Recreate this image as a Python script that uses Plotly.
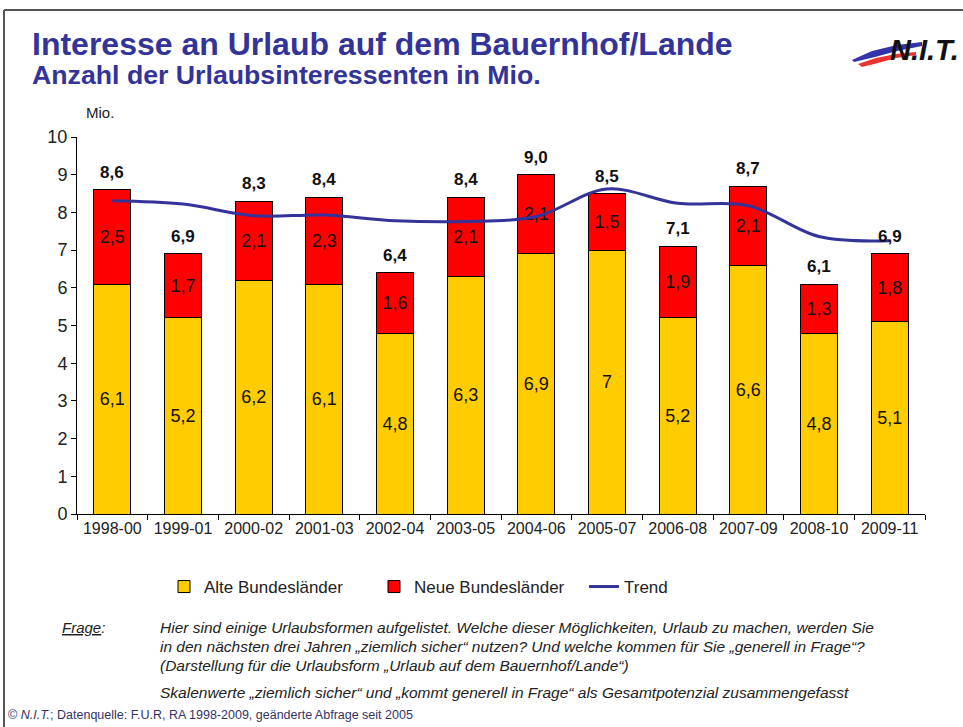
import plotly.graph_objects as go

# ---------------- data ----------------
categories = ["1998-00", "1999-01", "2000-02", "2001-03", "2002-04", "2003-05",
              "2004-06", "2005-07", "2006-08", "2007-09", "2008-10", "2009-11"]
alte = [6.1, 5.2, 6.2, 6.1, 4.8, 6.3, 6.9, 7.0, 5.2, 6.6, 4.8, 5.1]
neue = [2.5, 1.7, 2.1, 2.3, 1.6, 2.1, 2.1, 1.5, 1.9, 2.1, 1.3, 1.8]
totals = [8.6, 6.9, 8.3, 8.4, 6.4, 8.4, 9.0, 8.5, 7.1, 8.7, 6.1, 6.9]
trend = [8.31, 8.22, 7.91, 7.93, 7.78, 7.76, 7.89, 8.62, 8.24, 8.18, 7.36, 7.25]
alte_labels = ["6,1", "5,2", "6,2", "6,1", "4,8", "6,3", "6,9", "7", "5,2", "6,6", "4,8", "5,1"]
neue_labels = ["2,5", "1,7", "2,1", "2,3", "1,6", "2,1", "2,1", "1,5", "1,9", "2,1", "1,3", "1,8"]
total_labels = ["8,6", "6,9", "8,3", "8,4", "6,4", "8,4", "9,0", "8,5", "7,1", "8,7", "6,1", "6,9"]
y_ticks = list(range(0, 11))

# ---------------- layout geometry (pixels) ----------------
W, H = 963, 727
X0, X1 = 77, 925     # plot area left/right
Y1, Y0 = 137, 514    # plot area top/bottom


def px(x):
    return (x - X0) / (X1 - X0)


def py(y):
    return (Y0 - y) / (Y0 - Y1)


FONT = "Liberation Sans, Arial, sans-serif"
TITLE_COL = "#333399"
YELLOW = "#FFCC00"
RED = "#FF0000"

fig = go.Figure()
fig.add_trace(go.Bar(
    x=categories, y=alte, name="Alte Bundesländer",
    marker=dict(color=YELLOW, line=dict(color="#000000", width=1)),
    text=alte_labels, textposition="inside", insidetextanchor="middle",
    textfont=dict(size=18, color="#111111", family=FONT),
    width=0.52, hoverinfo="skip",
))
fig.add_trace(go.Bar(
    x=categories, y=neue, name="Neue Bundesländer",
    marker=dict(color=RED, line=dict(color="#000000", width=1)),
    text=neue_labels, textposition="inside", insidetextanchor="middle",
    textfont=dict(size=18, color="#111111", family=FONT),
    width=0.52, hoverinfo="skip",
))
fig.add_trace(go.Scatter(
    x=categories, y=trend, name="Trend", mode="lines",
    line=dict(color=TITLE_COL, width=3, shape="spline", smoothing=1.0),
    hoverinfo="skip",
))

annotations = []
for c, t, lab in zip(categories, totals, total_labels):
    annotations.append(dict(
        x=c, y=t, xref="x", yref="y", text="<b>" + lab + "</b>",
        showarrow=False, yanchor="bottom", yshift=6,
        font=dict(size=17, color="#111111", family=FONT),
    ))

# titles
annotations.append(dict(
    x=px(30), y=py(44), xref="paper", yref="paper", xanchor="left", yanchor="middle",
    text="<b>Interesse an Urlaub auf dem Bauernhof/Lande</b>", showarrow=False,
    font=dict(size=32, color=TITLE_COL, family=FONT),
))
annotations.append(dict(
    x=px(30), y=py(75), xref="paper", yref="paper", xanchor="left", yanchor="middle",
    text="<b>Anzahl der Urlaubsinteressenten in Mio.</b>", showarrow=False,
    font=dict(size=26.7, color=TITLE_COL, family=FONT),
))
# logo text
annotations.append(dict(
    x=px(961), y=py(50), xref="paper", yref="paper", xanchor="right", yanchor="middle",
    text="<b><i>N.I.T.</i></b>", showarrow=False,
    font=dict(size=29, color="#111111", family=FONT),
))
# Mio. unit
annotations.append(dict(
    x=px(100), y=py(113), xref="paper", yref="paper", xanchor="center", yanchor="middle",
    text="Mio.", showarrow=False, font=dict(size=15, color="#222222", family=FONT),
))
# footnotes
annotations.append(dict(
    x=px(60), y=py(627), xref="paper", yref="paper", xanchor="left", yanchor="middle",
    text="<i><u>Frage</u>:</i>", showarrow=False,
    font=dict(size=15, color="#222222", family=FONT),
))
foot_lines = [
    ("Hier sind einige Urlaubsformen aufgelistet. Welche dieser Möglichkeiten, Urlaub zu machen, werden Sie", 627),
    ("in den nächsten drei Jahren „ziemlich sicher“ nutzen? Und welche kommen für Sie „generell in Frage“?", 646),
    ("(Darstellung für die Urlaubsform „Urlaub auf dem Bauernhof/Lande“)", 665),
    ("Skalenwerte „ziemlich sicher“ und „kommt generell in Frage“ als Gesamtpotenzial zusammengefasst", 692),
]
for txt, yy in foot_lines:
    annotations.append(dict(
        x=px(158), y=py(yy), xref="paper", yref="paper", xanchor="left", yanchor="middle",
        text="<i>" + txt + "</i>", showarrow=False,
        font=dict(size=15.5, color="#222222", family=FONT),
    ))
annotations.append(dict(
    x=px(6), y=py(715), xref="paper", yref="paper", xanchor="left", yanchor="middle",
    text="© <i>N.I.T.</i>; Datenquelle: F.U.R, RA 1998-2009, geänderte Abfrage seit 2005",
    showarrow=False, font=dict(size=12.5, color="#333366", family=FONT),
))

shapes = [
    # frame: top and left lines
    dict(type="line", xref="paper", yref="paper", x0=px(4), x1=px(963), y0=py(10), y1=py(10),
         line=dict(color="#555555", width=2)),
    dict(type="line", xref="paper", yref="paper", x0=px(4), x1=px(4), y0=py(10), y1=py(727),
         line=dict(color="#555555", width=2)),
]


def path(points):
    s = "M {:.4f},{:.4f}".format(px(points[0][0]), py(points[0][1]))
    for (a, b) in points[1:]:
        s += " L {:.4f},{:.4f}".format(px(a), py(b))
    return s + " Z"


# logo swooshes
shapes.append(dict(type="path", xref="paper", yref="paper", layer="above",
                   path=path([(852, 60), (872, 51), (897, 45), (922, 42), (922, 46), (897, 51), (875, 57), (854, 62)]),
                   fillcolor="#3333AA", line=dict(width=0)))
shapes.append(dict(type="path", xref="paper", yref="paper", layer="above",
                   path=path([(858, 64), (876, 58), (896, 54), (916, 52), (916, 55), (896, 58), (878, 63), (862, 67)]),
                   fillcolor="#EE3333", line=dict(width=0)))

fig.update_layout(
    width=W, height=H,
    margin=dict(l=X0, r=W - X1, t=Y1, b=H - Y0, pad=0),
    paper_bgcolor="white", plot_bgcolor="white",
    barmode="stack", bargap=0.48,
    separators=", ",
    font=dict(family=FONT, color="#222222", size=16),
    showlegend=True,
    legend=dict(orientation="h", x=px(164), y=py(587), xanchor="left", yanchor="middle",
                font=dict(size=17, color="#222222", family=FONT),
                entrywidth=165, entrywidthmode="pixels", traceorder="normal",
                bgcolor="rgba(0,0,0,0)"),
    annotations=annotations,
    shapes=shapes,
    xaxis=dict(type="category", showline=True, linecolor="#000000", linewidth=1,
               ticks="outside", ticklen=5, tickcolor="#000000", tickson="boundaries",
               tickfont=dict(size=16, color="#222222", family=FONT), showgrid=False,
               fixedrange=True),
    yaxis=dict(range=[0, 10], tickvals=y_ticks, showline=True, linecolor="#000000", linewidth=1,
               ticks="outside", ticklen=5, tickcolor="#000000", showgrid=False, zeroline=False,
               tickfont=dict(size=18, color="#222222", family=FONT), fixedrange=True),
)

fig.write_html("out.html")
